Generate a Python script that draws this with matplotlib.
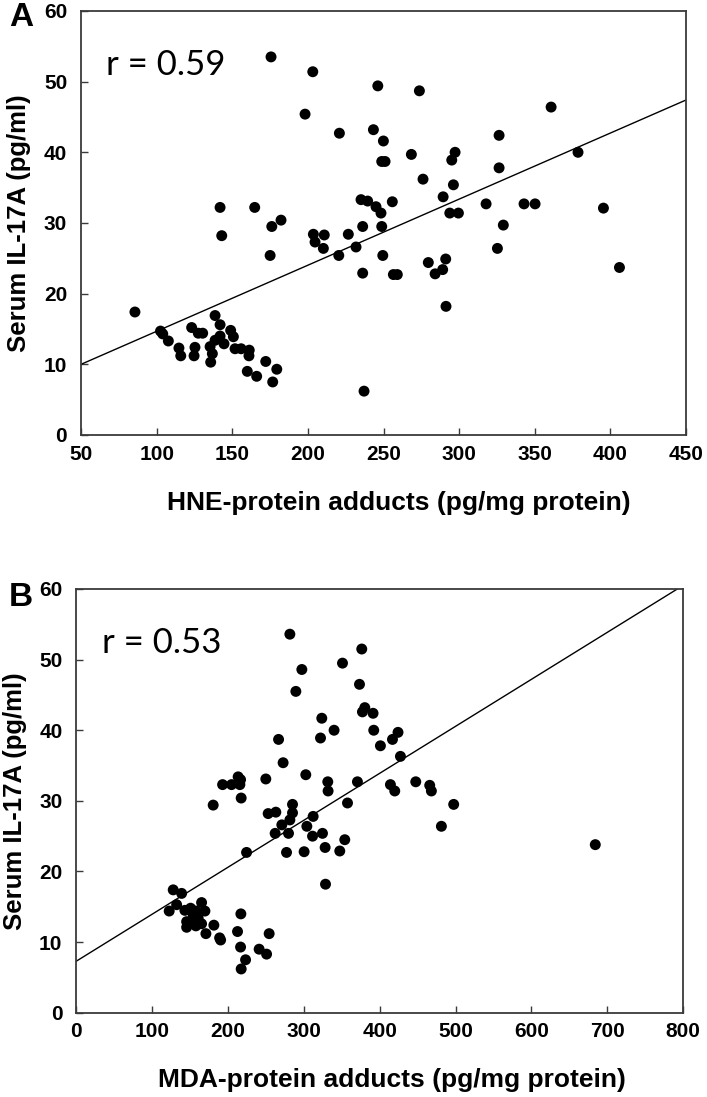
import matplotlib
matplotlib.use("Agg")
import matplotlib.pyplot as plt
import numpy as np

# ---------------- Data ----------------
hne_x = [175.6, 203.2, 246.2, 198.1, 220.8, 243.3, 249.9, 248.8, 251.0, 141.9, 164.8, 182.2, 176.1,
         235.1, 239.5, 245.0, 248.3, 255.8, 236.2, 248.8,
         273.7, 360.8, 326.4, 268.4, 297.3, 295.1, 378.6, 326.4, 276.1, 296.2, 289.4, 293.8, 299.5,
         317.8, 342.9, 350.2, 395.4, 329.2,
         249.5, 325.3, 279.6, 291.1, 289.1, 284.1, 256.5, 259.1, 291.3, 406.0,
         143.0, 175.0, 203.6, 210.8, 204.7, 210.2, 226.7, 231.8, 220.4, 236.2, 237.1,
         85.6, 102.5, 104.0, 107.7, 114.7, 115.9, 123.1, 127.5, 130.4, 125.3, 124.7, 135.7, 136.8,
         135.3, 138.6, 141.9, 138.6, 141.9, 144.5, 148.9, 150.7, 151.8, 155.8, 161.2, 161.0, 172.1,
         179.4, 159.9, 166.1, 176.7]
hne_y = [53.5, 51.4, 49.4, 45.4, 42.7, 43.2, 41.6, 38.7, 38.7, 32.2, 32.2, 30.4, 29.5,
         33.3, 33.1, 32.3, 31.4, 33.0, 29.5, 29.5,
         48.7, 46.4, 42.4, 39.7, 40.0, 38.9, 40.0, 37.8, 36.2, 35.4, 33.7, 31.4, 31.4,
         32.7, 32.7, 32.7, 32.1, 29.7,
         25.4, 26.4, 24.4, 24.9, 23.4, 22.8, 22.7, 22.7, 18.2, 23.7,
         28.2, 25.4, 28.4, 28.3, 27.3, 26.4, 28.4, 26.6, 25.4, 22.9, 6.2,
         17.4, 14.7, 14.3, 13.3, 12.3, 11.2, 15.2, 14.4, 14.4, 12.4, 11.2, 10.3, 11.5,
         12.5, 16.9, 15.6, 13.4, 14.0, 12.9, 14.8, 13.9, 12.2, 12.2, 12.0, 11.2, 10.4,
         9.3, 9.0, 8.3, 7.5]

mda_x = [281.6, 376.4, 351.0, 297.4, 373.4, 289.5, 380.4, 377.3, 391.3, 323.7, 322.0, 339.9, 392.2,
         266.7, 401.0, 272.7, 302.6, 249.9, 213.4, 216.6, 192.9, 204.7, 215.7, 217.4, 180.5, 331.6,
         332.0, 370.7, 285.1, 357.6,
         424.2, 416.9, 427.4, 414.2, 419.9, 447.6, 466.0, 468.2, 497.6, 481.4, 684.3,
         285.1, 281.6, 271.0, 253.0, 263.1, 262.2, 279.8, 277.2, 224.5, 304.0, 312.3, 311.5, 324.6,
         300.4, 328.1, 347.4, 354.0, 328.6,
         127.8, 138.9, 132.3, 122.5, 165.2, 143.2, 150.7, 157.7, 169.6, 154.2, 160.7, 145.5, 153.4,
         165.2, 145.5, 157.7, 181.4, 170.9, 190.3, 189.0, 212.6, 217.0, 216.6, 223.2, 217.4, 241.1,
         250.9, 254.3]
mda_y = [53.6, 51.5, 49.5, 48.6, 46.5, 45.5, 43.2, 42.6, 42.4, 41.7, 38.9, 40.0, 40.0,
         38.7, 37.8, 35.4, 33.7, 33.1, 33.4, 33.0, 32.3, 32.3, 32.3, 30.4, 29.4, 32.7,
         31.4, 32.7, 29.5, 29.7,
         39.7, 38.7, 36.3, 32.3, 31.4, 32.7, 32.2, 31.4, 29.5, 26.4, 23.8,
         28.3, 27.3, 26.6, 28.2, 28.4, 25.4, 25.4, 22.7, 22.7, 26.4, 27.8, 25.0, 25.4,
         22.8, 23.4, 22.9, 24.5, 18.2,
         17.4, 16.9, 15.3, 14.4, 15.6, 14.5, 14.8, 14.4, 14.4, 13.8, 13.4, 12.9, 12.9,
         12.6, 12.1, 12.3, 12.4, 11.2, 10.3, 10.6, 11.5, 14.0, 9.3, 7.5, 6.2, 9.0,
         8.3, 11.2]

# regression line endpoints
hne_fit_x = [50, 450]
hne_fit_y = [10.0, 47.4]
mda_fit_x = [0, 800]
mda_fit_y = [7.3, 60.5]

hne_xticks = [50, 100, 150, 200, 250, 300, 350, 400, 450]
mda_xticks = [0, 100, 200, 300, 400, 500, 600, 700, 800]
yticks = [0, 10, 20, 30, 40, 50, 60]

W, H = 707, 1097
fig = plt.figure(figsize=(W / 100, H / 100), dpi=100)

tick_font = dict(family=["Liberation Sans", "DejaVu Sans"], weight="bold", size=15)
xlab_font = dict(family=["Liberation Sans", "DejaVu Sans"], weight="bold", size=19)
ylab_font = dict(family=["Liberation Sans", "DejaVu Sans"], weight="bold", size=18.5)
r_font = dict(family=["Lato", "DejaVu Sans"], size=25)
letter_font = dict(family=["Liberation Sans", "DejaVu Sans"], weight="bold", size=24)

spine_color = "#3a3a3a"


def make_panel(rect, xs, ys, fx, fy, xlim, xticks, xlabel, xlab_pos, rtext, letter, letter_pos):
    ax = fig.add_axes(rect)
    ax.scatter(xs, ys, s=62, color="black", edgecolors="none", zorder=3, clip_on=False)
    ax.plot(fx, fy, color="black", lw=1.0, zorder=2)
    ax.set_xlim(*xlim)
    ax.set_ylim(0, 60)
    ax.set_xticks(xticks)
    ax.set_yticks(yticks)
    ax.set_xticklabels([str(t) for t in xticks], fontdict=tick_font)
    ax.set_yticklabels([str(t) for t in yticks], fontdict=tick_font)
    ax.tick_params(direction="in", length=5, width=1.0, color=spine_color,
                   top=False, right=False)
    ax.tick_params(axis="x", pad=7)
    ax.tick_params(axis="y", pad=10)
    for sp in ax.spines.values():
        sp.set_color(spine_color)
        sp.set_linewidth(1.3)
    ax.set_xlabel(xlabel, fontdict=xlab_font, va="center", ha="center")
    ax.xaxis.set_label_coords(*xlab_pos)
    ax.set_ylabel("Serum IL-17A (pg/ml)", fontdict=ylab_font, labelpad=9)
    ax.text(0.042, 0.873, rtext, transform=ax.transAxes, ha="left", va="center", **r_font)
    fig.text(letter_pos[0], letter_pos[1], letter, ha="left", va="center", **letter_font)
    return ax


axA = make_panel([0.1147, 0.6035, 0.8556, 0.3865], hne_x, hne_y, hne_fit_x, hne_fit_y,
                 (50, 450), hne_xticks, "HNE-protein adducts (pg/mg protein)", (0.526, -0.160),
                 "r = 0.59", "A", (9 / W, 1 - 18 / H))
axB = make_panel([0.1079, 0.0768, 0.8582, 0.3863], mda_x, mda_y, mda_fit_x, mda_fit_y,
                 (0, 800), mda_xticks, "MDA-protein adducts (pg/mg protein)", (0.520, -0.159),
                 "r = 0.53", "B", (9 / W, 1 - 597 / H))

fig.savefig("out.png", dpi=100, facecolor="white")
